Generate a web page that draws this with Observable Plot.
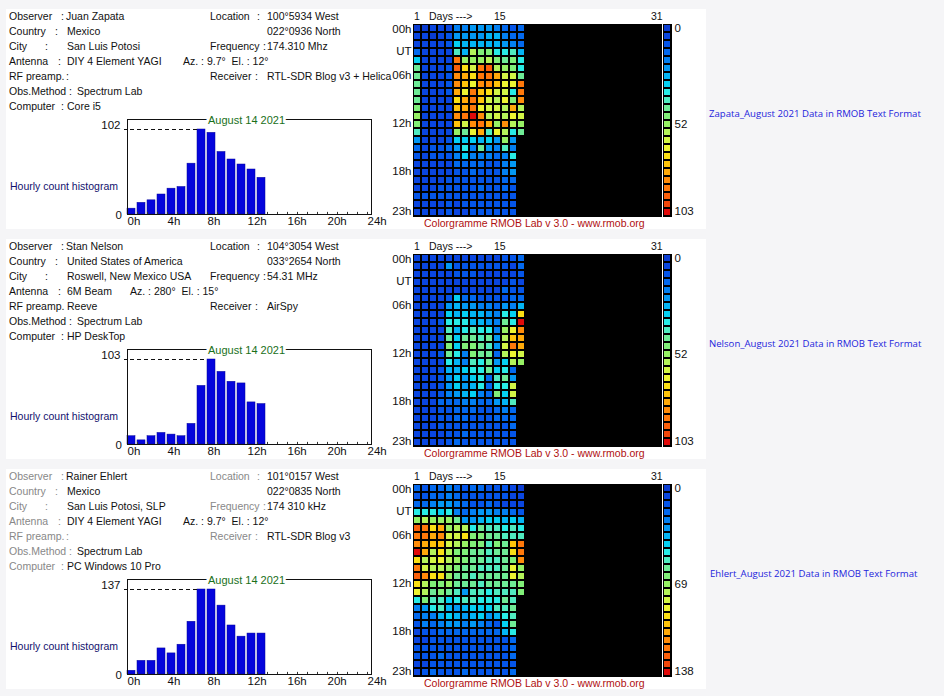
<!DOCTYPE html>
<html><head><meta charset="utf-8">
<script src="https://cdn.jsdelivr.net/npm/d3@7"></script>
<script src="https://cdn.jsdelivr.net/npm/@observablehq/plot@0.6"></script>
<style>
html,body{margin:0;padding:0;background:#f5f5f7}
#root{position:relative;width:944px;height:696px;overflow:hidden;background:#f5f5f7;font-family:"Liberation Sans",sans-serif;font-size:10.5px;color:#111}
.panel{position:absolute;left:6px;width:700px;height:220px;background:#fff}
.t{position:absolute;white-space:nowrap;line-height:14px}
#root svg{position:absolute;overflow:visible;background:transparent}
</style></head><body><div id="root"></div>
<script>
const hours = d3.range(0, 14);
const levelColors = ["#0a3cd2","#0a46e0","#0555e8","#0369ee","#0380f2","#0398f4","#03b4f4","#05d0f2","#28ebe6","#50ebc0","#6eeb96","#80ef78","#96f064","#b4f35a","#d2f546","#ecf332","#fadf14","#ffc30a","#ffaa0a","#ff8c0a","#ff780a","#fa5f0a","#f0460a","#e10a0a"];
const levelIndex = d3.range(0, 24);
const rowLabels = [["UT",3],["06h",6],["12h",12],["18h",18],["23h",23]];
const firstRowLabel = [["00h",0]];

const zapataHist = [7,14,17,24,31,33,61,102,98,75,66,60,54,44];
const nelsonHist = [10,5,10,14,12,10,25,71,103,88,76,74,51,49];
const ehlertHist = [6,22,22,42,34,48,85,137,137,111,79,61,66,66];

const zapataCells = [
[0,0,1,1,1,4,4,5,5,5,4,3,2,3],
[1,1,0,1,2,5,5,5,5,6,6,4,3,3],
[1,1,1,1,2,7,6,6,6,6,6,5,4,3],
[3,1,1,1,1,9,6,13,11,11,8,8,9,6],
[7,1,1,1,1,20,12,12,12,13,11,10,11,8],
[10,1,1,1,2,21,16,14,20,21,13,12,11,8],
[10,1,1,1,2,19,18,16,20,20,18,14,14,10],
[10,1,1,1,2,19,17,15,19,19,17,15,15,20],
[10,1,1,1,2,18,15,20,17,16,14,14,8,20],
[10,1,1,1,1,16,18,20,17,14,13,15,11,19],
[11,1,1,1,1,17,18,20,15,14,14,13,18,13],
[12,1,1,1,1,19,20,23,19,13,14,13,15,14],
[11,1,1,1,1,17,14,19,20,18,12,19,13,12],
[9,1,1,1,1,12,10,15,18,9,15,13,8,10],
[5,1,1,1,2,7,7,7,6,7,5,12,5],
[3,1,2,2,3,5,8,4,10,5,4,9,4],
[2,1,2,2,2,4,7,4,4,4,3,4,8],
[1,1,1,1,1,3,3,3,3,2,2,4,5],
[1,1,1,1,1,2,2,3,2,2,2,4,5],
[1,1,1,1,2,2,2,2,2,2,2,3,3],
[1,1,1,2,2,2,2,2,3,2,2,3,2],
[2,2,2,2,2,2,2,2,2,2,2,2,2],
[1,1,1,1,2,1,2,2,2,2,2,2,2],
[1,1,1,1,2,1,1,2,2,2,2,2,2]];

const nelsonCells = [
[1,1,1,1,1,1,1,1,1,1,1,2,2,3],
[1,1,1,1,5,2,2,2,2,2,2,2,1,3],
[1,1,1,1,1,2,2,2,1,1,1,1,1,2],
[1,1,1,1,1,1,1,1,1,1,1,1,2,1],
[1,1,1,1,1,1,1,1,1,1,1,3,2,2],
[1,1,1,1,2,7,3,3,2,2,2,2,3,3],
[1,1,1,1,5,6,5,5,4,4,3,5,4,6],
[1,1,1,1,7,6,7,6,6,5,4,8,7,16],
[1,1,1,2,8,8,8,6,6,5,4,10,8,23],
[1,1,1,1,9,6,8,9,8,8,4,12,15,19],
[1,1,1,1,10,7,10,10,9,10,5,13,17,18],
[1,1,1,1,11,7,11,11,10,9,5,14,20,18],
[1,1,1,2,10,8,4,11,10,10,3,13,15,14],
[1,1,1,1,8,6,4,9,8,10,5,7,13,12],
[1,1,1,2,6,6,7,8,8,10,7,8,3],
[1,1,1,2,5,7,5,7,8,3,9,10,5],
[1,1,1,2,5,7,5,6,8,3,8,8,14],
[1,1,1,2,4,5,6,7,4,3,11,7,14],
[1,1,1,3,3,3,4,4,3,3,5,6,9],
[1,1,1,2,2,3,3,3,2,2,3,4,3],
[1,1,1,2,2,3,3,2,2,2,3,3,3],
[1,1,1,2,2,2,2,2,2,2,2,2,3],
[1,1,1,1,2,2,3,2,2,2,2,2,2],
[1,1,1,1,2,3,2,2,2,2,2,2,2]];

const ehlertCells = [
[3,2,3,3,4,3,2,3,3,2,2,2,1,0],
[2,2,3,3,4,3,2,2,2,2,2,2,1,1],
[3,3,4,5,5,4,3,2,2,3,2,1,1,1],
[8,8,8,7,8,4,3,4,5,5,4,4,3,2],
[12,13,12,12,12,10,5,5,6,7,7,6,7,6],
[21,20,16,18,12,13,13,8,10,9,9,8,9,8],
[20,20,18,19,14,14,16,11,11,10,10,9,9,9],
[19,18,17,17,14,13,12,11,11,9,11,10,17,20],
[23,18,13,16,13,11,11,10,10,9,10,10,16,20],
[16,13,14,15,13,12,11,10,10,9,9,10,11,19],
[20,14,13,13,12,11,10,10,9,9,9,10,15,12],
[21,19,16,16,12,10,10,9,10,10,10,10,15,13],
[16,13,11,11,12,10,10,10,9,10,10,10,10,11],
[15,13,10,11,10,9,5,9,9,8,9,9,9,11],
[8,11,9,9,7,8,9,9,8,8,8,10,9],
[4,5,8,9,6,5,6,7,7,7,9,9,10],
[3,4,4,6,7,6,5,6,7,5,6,8,9],
[2,4,3,4,5,5,4,5,4,3,2,7,10],
[1,2,2,3,3,3,3,3,3,3,3,6,8],
[1,1,2,2,2,2,2,2,2,2,2,2,3],
[2,2,2,2,2,2,2,2,2,2,2,2,3],
[2,2,2,3,2,2,2,2,2,2,2,2,3],
[1,1,2,2,2,2,2,2,2,2,2,2,2],
[1,2,3,2,2,2,3,2,2,2,2,2,3]];

const zapataInfo = {observer:"Juan Zapata",country:"Mexico",city:"San Luis Potosi",antenna:"DIY 4 Element YAGI",azel:"Az. : 9.7°  El. : 12°",preamp:"",method:"Spectrum Lab",computer:"Core i5",lon:"100°5934 West",lat:"022°0936 North",freq:"174.310 Mhz",receiver:"RTL-SDR Blog v3 + Helica",link:"Zapata_August 2021 Data in RMOB Text Format"};
const nelsonInfo = {observer:"Stan Nelson",country:"United States of America",city:"Roswell, New Mexico USA",antenna:"6M Beam",azel:"Az. : 280°  El. : 15°",preamp:"Reeve",method:"Spectrum Lab",computer:"HP DeskTop",lon:"104°3054 West",lat:"033°2654 North",freq:"54.31 MHz",receiver:"AirSpy",link:"Nelson_August 2021 Data in RMOB Text Format"};
const ehlertInfo = {observer:"Rainer Ehlert",country:"Mexico",city:"San Luis Potosi, SLP",antenna:"DIY 4 Element YAGI",azel:"Az. : 9.7°  El. : 12°",preamp:"",method:"Spectrum Lab",computer:"PC Windows 10 Pro",lon:"101°0157 West",lat:"022°0835 North",freq:"174 310 kHz",receiver:"RTL-SDR Blog v3",link:"Ehlert_August 2021 Data in RMOB Text Format"};

const stations = [
 {info:zapataInfo,hist:zapataHist,cells:zapataCells,scale:[0,52,103],labelColor:"#111",azX:183},
 {info:nelsonInfo,hist:nelsonHist,cells:nelsonCells,scale:[0,52,103],labelColor:"#111",azX:130},
 {info:ehlertInfo,hist:ehlertHist,cells:ehlertCells,scale:[0,69,138],labelColor:"#888",azX:183}
];
const FONT = '"Liberation Sans",sans-serif';
const root = document.getElementById("root");
function put(text,x,y,o={}){
  const e=document.createElement("div");e.className="t";e.textContent=text;
  e.style.left=x+"px";e.style.top=(y-7)+"px";
  if(o.color)e.style.color=o.color;
  if(o.size)e.style.fontSize=o.size+"px";
  if(o.font)e.style.fontFamily=o.font;
  root.appendChild(e);
}
function place(svg,x,y){svg.style.left=x+"px";svg.style.top=y+"px";root.appendChild(svg);}

stations.forEach((s,k)=>{
  const o=k*230, c=s.labelColor, I=s.info;
  const p=document.createElement("div");p.className="panel";p.style.top=(9+o)+"px";root.appendChild(p);
  const rows=[["Observer",61,I.observer,66],["Country",55,I.country,67],["City",45,I.city,67],["Antenna",58,I.antenna,67],["RF preamp.",k==1?null:66,I.preamp,67],["Obs.Method",69,I.method,77],["Computer",61,I.computer,67]];
  rows.forEach((r,i)=>{
    const y=16+o+15*i;
    put(r[0],9,y,{color:c});
    if(r[1]!==null)put(":",r[1],y,{color:c});
    if(r[2])put(r[2],r[3],y);
  });
  put("Location",210,16+o,{color:c});put(":",257,16+o,{color:c});put(I.lon,267,16+o);
  put(I.lat,267,31+o);
  put("Frequency",210,46+o,{color:c});put(":",263,46+o,{color:c});put(I.freq,267,46+o);
  put(I.azel.replace(/  /g,"\u00a0\u00a0"),s.azX,61+o);
  put("Receiver",210,76+o,{color:c});put(":",255,76+o,{color:c});put(I.receiver,267,76+o);
  put("Hourly count histogram",10,186+o,{color:"#12126e"});
  put("1",414,16+o);put("Days --->",429,16+o);put("15",494,16+o);put("31",651,16+o);
  put("Colorgramme RMOB Lab v 3.0 - www.rmob.org",424,223+o,{color:"#b01010"});
  put(I.link,709+(k==2?1:0),114+o,{color:"#2424dc",size:9.6,font:'"Open Sans",sans-serif'});

  // histogram
  const max=d3.max(s.hist), hdata=hours.map((h,i)=>({h,v:s.hist[i]}));
  const peak=hdata.find(d=>d.v===max).h;
  place(Plot.plot({
    width:296,height:119,marginLeft:32,marginRight:20,marginTop:8,marginBottom:16,
    style:{background:"transparent",fontFamily:FONT,fontSize:"11px",color:"#111",overflow:"visible"},
    x:{domain:[0,24.4],axis:null},y:{domain:[0,max*95/85],axis:null},
    marks:[
      Plot.rectY(hdata,{x1:"h",x2:d=>d.h+0.8,y:"v",fill:"#0505dc",stroke:"#05059a",strokeWidth:0.5}),
      Plot.ruleY([max],{x1:0.3,x2:peak,stroke:"#111",strokeDasharray:"4,3"}),
      Plot.ruleY([max],{x1:-0.3,x2:0,stroke:"#111"}),
      Plot.ruleX(d3.range(1,25),{y1:0,y2:max*0.025,stroke:"#333"}),
      Plot.frame({stroke:"#111"}),
      Plot.text(["August 14 2021"],{x:[11.9],frameAnchor:"top",lineAnchor:"middle",dy:1,fill:"#1a701a",stroke:"white",strokeWidth:6,fontSize:11}),
      Plot.text([max,0],{x:[-0.7,-0.55],y:[max*1.045,-0.01*max],textAnchor:"end",fill:"#111",fontSize:11.5}),
      Plot.text(d3.range(0,25,4),{x:d=>d,frameAnchor:"bottom",lineAnchor:"top",dy:2,text:d=>d+"h",textAnchor:"start",fill:"#111",fontSize:11.5})
    ]
  }),95,111+o);

  // colorgramme
  const cells=s.cells.flatMap((row,r)=>row.map((v,d)=>({day:d+1,row:r,level:v})));
  place(Plot.plot({
    width:276,height:192,marginLeft:28,marginRight:0,marginTop:0,marginBottom:0,
    style:{background:"transparent",fontFamily:FONT,fontSize:"11px",overflow:"visible"},
    x:{type:"band",domain:d3.range(1,32),padding:0,align:0,axis:null},
    y:{type:"band",domain:d3.range(0,24),padding:0,align:0,axis:null},
    color:{type:"ordinal",domain:levelIndex,range:levelColors},
    marks:[
      Plot.frame({fill:"black",stroke:"black"}),
      Plot.cell(cells,{x:"day",y:"row",fill:"level",inset:1}),
      Plot.text(firstRowLabel,{y:d=>d[1],text:d=>d[0],frameAnchor:"left",textAnchor:"end",dx:-2,dy:1,fill:"#111",fontSize:11.5}),
      Plot.text(rowLabels,{y:d=>d[1],text:d=>d[0],frameAnchor:"left",textAnchor:"end",dx:-2,dy:-1,fill:"#111",fontSize:11.5})
    ]
  }),385,24+o);

  // level key
  const keyLabels=[[0,s.scale[0]],[12,s.scale[1]]], keyEnd=[[23,s.scale[2]]];
  place(Plot.plot({
    width:40,height:192,marginLeft:0,marginRight:32,marginTop:0,marginBottom:0,
    style:{background:"transparent",fontFamily:FONT,fontSize:"11px",overflow:"visible"},
    x:{axis:null,domain:[0,1]},
    y:{type:"band",domain:levelIndex,padding:0,align:0,axis:null},
    color:{type:"ordinal",domain:levelIndex,range:levelColors},
    marks:[
      Plot.frame({fill:"black",stroke:"black"}),
      Plot.cell(levelIndex,{y:d=>d,fill:d=>d,inset:1}),
      Plot.text(keyLabels,{y:d=>d[0],text:d=>d[1],frameAnchor:"right",textAnchor:"start",dx:3,fill:"#111",fontSize:11.5}),
      Plot.text(keyEnd,{y:d=>d[0],text:d=>d[1],frameAnchor:"right",textAnchor:"start",dx:3,dy:-1.5,fill:"#111",fontSize:11.5})
    ]
  }),663,24+o);
});
</script></body></html>
